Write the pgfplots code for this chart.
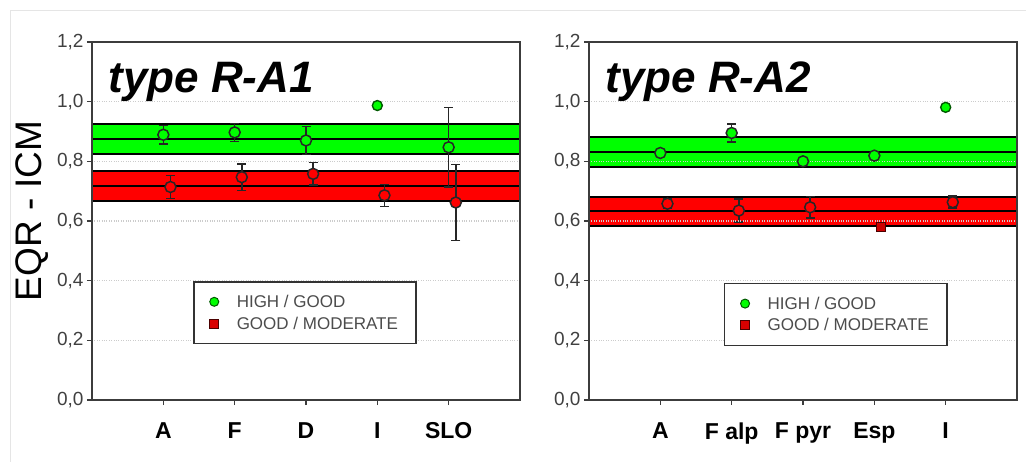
\documentclass[border=0pt]{standalone}
\usepackage{fontspec}
\setmainfont{Liberation Sans}
\usepackage{pgfplots}
\pgfplotsset{compat=1.18}
\definecolor{bandgreen}{RGB}{0,255,0}
\definecolor{bandred}{RGB}{255,0,0}
\definecolor{axisgray}{RGB}{60,60,60}
\pgfplotsset{
 panel/.style={
  scale only axis, width=428pt, height=358pt,
  xmin=0, xmax=6, ymin=0, ymax=1.2,
  xtick={1,2,3,4,5}, ytick={0,0.2,0.4,0.6,0.8,1.0,1.2},
  ymajorgrids, grid style={gray!40, dotted, line width=1.2pt},
  axis on top,
  axis line style={axisgray, line width=1.8pt},
  tick style={axisgray, line width=1.6pt},
  tick align=outside, major tick length=5pt,
  xtick pos=bottom, ytick pos=left,
  yticklabel style={font=\fontsize{19}{19}\selectfont, text=black!75},
  xticklabel style={font=\fontsize{23}{23}\selectfont\bfseries, yshift=-14pt},
  yticklabel={\pgfmathprintnumber[fixed, fixed zerofill, precision=1, use comma, assume math mode=true]{\tick}},
  legend style={draw=black!80, line width=1.5pt, font=\fontsize{17}{17}\selectfont, text=black!70,
    inner xsep=16pt, inner ysep=11pt, row sep=4pt, cells={anchor=west},
    /tikz/every odd column/.append style={column sep=16pt}},
 },
 band/.style={draw=black, line width=2pt, forget plot},
 ebar/.style={only marks, mark=*, mark size=5.5pt, forget plot,
   error bars/.cd, y dir=both, y explicit,
   error bar style={black!85, line width=1.6pt},
   error mark options={rotate=90, mark size=4.5pt, line width=1.6pt, black!85},
   /pgfplots/.cd},
}
\begin{document}
\begin{tikzpicture}
\path[use as bounding box] (0,0) rectangle (1026pt,-462pt);
\draw[gray!20, line width=1pt] (10pt,-462pt) -- (10pt,-11pt) -- (1026pt,-11pt);
% ---------------- left panel
\begin{axis}[panel, at={(92pt,-400pt)}, anchor=south west,
  xticklabels={A,F,D,I,SLO},
  ylabel={EQR - ICM},
  ylabel style={at={(axis description cs:-0.14,0.528)}, anchor=center, font=\fontsize{37}{37}\selectfont},
  legend style={at={(rel axis cs:0.236,0.332)}, anchor=north west}]
\addplot[band, fill=bandgreen] coordinates {(0,0.824) (6,0.824) (6,0.926) (0,0.926) (0,0.824)};
\addplot[band] coordinates {(0,0.875) (6,0.875)};
\addplot[band, fill=bandred] coordinates {(0,0.667) (6,0.667) (6,0.766) (0,0.766) (0,0.667)};
\addplot[band] coordinates {(0,0.718) (6,0.718)};
\addplot[ebar, mark options={fill=bandgreen, draw=black!85, line width=1.5pt}] coordinates {
 (1,0.889) +- (0,0.031)
 (2,0.897) +- (0,0.030)
 (3,0.870) +- (0,0.047)
 (5,0.847) +- (0,0.134)};
\addplot[only marks, mark=*, mark size=5pt, forget plot, mark options={fill=bandgreen, draw=green!35!black, line width=1.4pt}] coordinates {(4,0.987)};
\addplot[ebar, mark options={fill=bandred, draw=black!85, line width=1.5pt}] coordinates {
 (1.1,0.714) +- (0,0.039)
 (2.1,0.747) +- (0,0.045)
 (3.1,0.758) +- (0,0.038)
 (4.1,0.686) +- (0,0.037)
 (5.1,0.662) +- (0,0.128)};
\addlegendimage{only marks, mark=*, mark size=4.5pt, mark options={fill=bandgreen, draw=green!35!black, line width=1pt}}
\addlegendentry{HIGH / GOOD}
\addlegendimage{only marks, mark=square*, mark size=4.5pt, mark options={fill=red!85!black, draw=red!30!black, line width=1pt}}
\addlegendentry{GOOD / MODERATE}
\node[anchor=base west, font=\fontsize{44}{44}\selectfont\bfseries\itshape] at (rel axis cs:0.03,0.86) {type R-A1};
\end{axis}
% ---------------- right panel
\begin{axis}[panel, at={(589pt,-400pt)}, anchor=south west,
  xticklabels={A,F alp,F pyr,Esp,I},
  legend style={at={(rel axis cs:0.315,0.327)}, anchor=north west}]
\addplot[band, fill=bandgreen] coordinates {(0,0.780) (6,0.780) (6,0.881) (0,0.881) (0,0.780)};
\addplot[band] coordinates {(0,0.830) (6,0.830)};
\addplot[band, fill=bandred] coordinates {(0,0.582) (6,0.582) (6,0.682) (0,0.682) (0,0.582)};
\addplot[band] coordinates {(0,0.634) (6,0.634)};
\addplot[ebar, mark options={fill=bandgreen, draw=black!85, line width=1.5pt}] coordinates {
 (1,0.828) +- (0,0.010)
 (2,0.895) +- (0,0.031)
 (3,0.800) +- (0,0.008)
 (4,0.819) +- (0,0.012)};
\addplot[only marks, mark=*, mark size=5pt, forget plot, mark options={fill=bandgreen, draw=green!35!black, line width=1.4pt}] coordinates {(5,0.981)};
\addplot[ebar, mark options={fill=bandred, draw=black!85, line width=1.5pt}] coordinates {
 (1.1,0.658) +- (0,0.015)
 (2.1,0.635) +- (0,0.039)
 (3.1,0.646) +- (0,0.036)
 (5.1,0.663) +- (0,0.020)};
\addplot[only marks, mark=square*, mark size=4.5pt, forget plot, mark options={fill=red!80!black, draw=red!30!black, line width=1pt}] coordinates {(4.1,0.580)};
\addlegendimage{only marks, mark=*, mark size=4.5pt, mark options={fill=bandgreen, draw=green!35!black, line width=1pt}}
\addlegendentry{HIGH / GOOD}
\addlegendimage{only marks, mark=square*, mark size=4.5pt, mark options={fill=red!85!black, draw=red!30!black, line width=1pt}}
\addlegendentry{GOOD / MODERATE}
\node[anchor=base west, font=\fontsize{44}{44}\selectfont\bfseries\itshape] at (rel axis cs:0.03,0.86) {type R-A2};
\end{axis}
\end{tikzpicture}
\end{document}
